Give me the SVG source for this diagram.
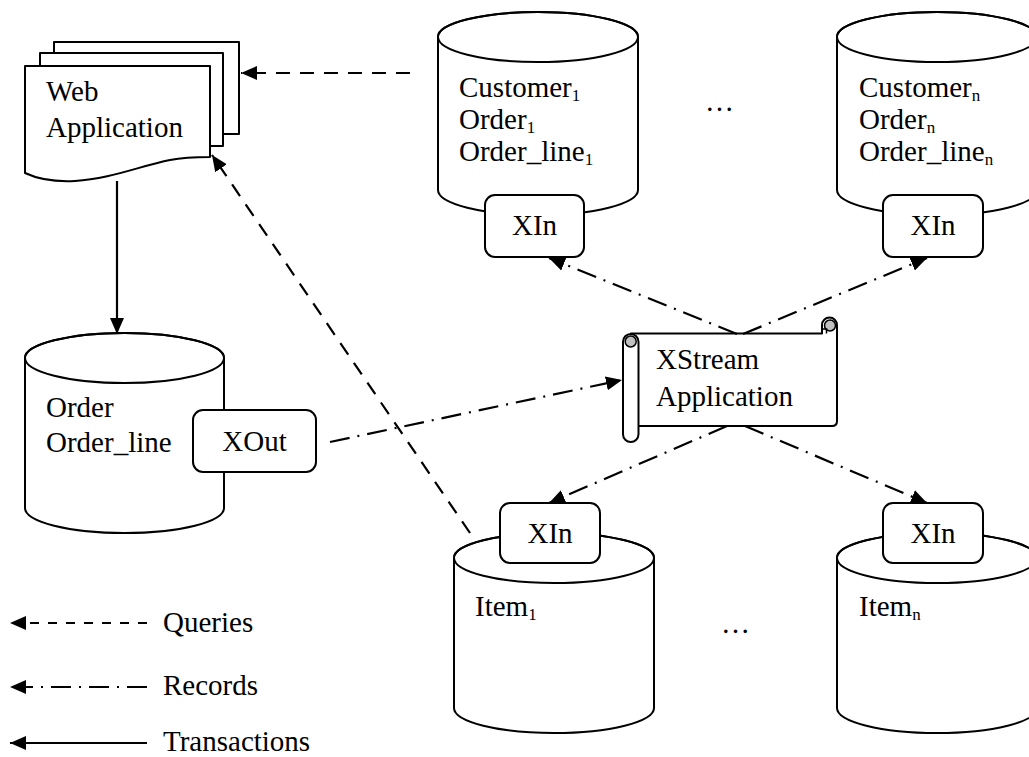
<svg xmlns="http://www.w3.org/2000/svg" width="1029" height="757" viewBox="0 0 1029 757">
<style>
.s{fill:#fff;stroke:#000;stroke-width:2;stroke-linejoin:round}
.n{fill:none;stroke:#000;stroke-width:2}
.t{font-family:"Liberation Serif","Times New Roman",serif;font-size:29px;fill:#000}
.sub{font-size:17px}
.q{fill:none;stroke:#000;stroke-width:2.2;stroke-dasharray:14 10}
.ql{fill:none;stroke:#000;stroke-width:2.2;stroke-dasharray:9 9}
.r{fill:none;stroke:#000;stroke-width:2.2;stroke-dasharray:20 8 2 8}
.tr{fill:none;stroke:#000;stroke-width:2.2}
.g{fill:#c0c0c0;stroke:#000;stroke-width:1.5}
</style>
<defs>
<marker id="ah" markerUnits="userSpaceOnUse" markerWidth="17" markerHeight="16" viewBox="0 0 17 16" refX="16" refY="8" orient="auto"><path d="M0,1 L16,8 L0,15 Z" fill="#000" stroke="none"/></marker>
</defs>
<rect width="1029" height="757" fill="#fff"/>

<g id="web-application">
<rect class="s" x="54" y="42" width="185" height="92"/>
<rect class="s" x="40" y="53" width="183" height="93"/>
<path class="s" d="M25,66 H210 V157 C200,157 185,157 170,160 C140,166 110,179 75,181 C55,182 40,180 25,173 Z"/>
<text class="t" x="46" y="101">Web</text>
<text class="t" x="46" y="137">Application</text>
</g>

<g id="customer-1">
<path class="s" d="M438,37 V190 A100,25 0 0 0 638,190 V37 A100,25 0 0 0 438,37 Z"/>
<ellipse class="n" cx="538" cy="37" rx="100" ry="25"/>
<text class="t" x="459" y="97">Customer<tspan class="sub" dy="4">1</tspan></text>
<text class="t" x="459" y="129">Order<tspan class="sub" dy="4">1</tspan></text>
<text class="t" x="459" y="161">Order_line<tspan class="sub" dy="4">1</tspan></text>
<rect class="s" x="485" y="195" width="99" height="62" rx="10"/>
<text class="t" x="534.5" y="235" text-anchor="middle">XIn</text>
</g>

<g id="customer-n">
<path class="s" d="M837,37 V190 A100,25 0 0 0 1037,190 V37 A100,25 0 0 0 837,37 Z"/>
<ellipse class="n" cx="937" cy="37" rx="100" ry="25"/>
<text class="t" x="859" y="97">Customer<tspan class="sub" dy="4">n</tspan></text>
<text class="t" x="859" y="129">Order<tspan class="sub" dy="4">n</tspan></text>
<text class="t" x="859" y="161">Order_line<tspan class="sub" dy="4">n</tspan></text>
<rect class="s" x="883" y="195" width="100" height="62" rx="10"/>
<text class="t" x="933" y="235" text-anchor="middle">XIn</text>
</g>

<g id="order-db">
<path class="s" d="M25,358 V508 A99.5,25 0 0 0 224,508 V358 A99.5,25 0 0 0 25,358 Z"/>
<ellipse class="n" cx="124.5" cy="358" rx="99.5" ry="25"/>
<text class="t" x="46" y="417">Order</text>
<text class="t" x="46" y="452">Order_line</text>
<rect class="s" x="193" y="410" width="123" height="62" rx="10"/>
<text class="t" x="254.5" y="451" text-anchor="middle">XOut</text>
</g>

<g id="xstream-application">
<path class="s" d="M631,333.5 H822 V325 A7.5,7.5 0 0 1 837,325 V421 Q837,426 832,426 H631 Z"/>
<rect class="s" x="623" y="334" width="15.5" height="108" rx="7.75"/>
<circle class="g" cx="630.7" cy="341.5" r="5.5"/>
<circle class="g" cx="830" cy="325.5" r="5.5"/>
<path class="n" style="stroke-width:1.5" d="M822,329 H826.5 V333.5"/>
<text class="t" x="656" y="369">XStream</text>
<text class="t" x="656" y="406">Application</text>
</g>

<g id="item-1">
<path class="s" d="M454,558 V708 A100,25 0 0 0 654,708 V558 A100,25 0 0 0 454,558 Z"/>
<ellipse class="n" cx="554" cy="558" rx="100" ry="25"/>
<rect class="s" x="500" y="503" width="100" height="60" rx="10"/>
<text class="t" x="550" y="543" text-anchor="middle">XIn</text>
<text class="t" x="475" y="616">Item<tspan class="sub" dy="4">1</tspan></text>
</g>

<g id="item-n">
<path class="s" d="M837,558 V708 A100,25 0 0 0 1037,708 V558 A100,25 0 0 0 837,558 Z"/>
<ellipse class="n" cx="937" cy="558" rx="100" ry="25"/>
<rect class="s" x="883" y="503" width="100" height="60" rx="10"/>
<text class="t" x="933" y="543" text-anchor="middle">XIn</text>
<text class="t" x="859" y="616">Item<tspan class="sub" dy="4">n</tspan></text>
</g>

<g id="ellipses">
<text class="t" x="705" y="111">…</text>
<text class="t" x="721" y="633">…</text>
</g>

<g id="connectors">
<line class="q" x1="410" y1="73" x2="241" y2="73" marker-end="url(#ah)"/>
<line class="q" x1="470" y1="533" x2="212" y2="155" marker-end="url(#ah)"/>
<line class="tr" x1="117" y1="181" x2="117" y2="334" marker-end="url(#ah)"/>
<line class="r" x1="330" y1="442" x2="622" y2="380" marker-end="url(#ah)"/>
<line class="r" x1="737" y1="334" x2="549" y2="258" marker-end="url(#ah)"/>
<line class="r" x1="743" y1="334" x2="927" y2="258" marker-end="url(#ah)"/>
<line class="r" x1="727" y1="426" x2="549" y2="503" marker-end="url(#ah)"/>
<line class="r" x1="745" y1="426" x2="927" y2="503" marker-end="url(#ah)"/>
</g>

<g id="legend">
<line class="ql" x1="147" y1="623" x2="10" y2="623" marker-end="url(#ah)"/>
<line class="r" x1="147" y1="687" x2="10" y2="687" marker-end="url(#ah)"/>
<line class="tr" x1="147" y1="743" x2="10" y2="743" marker-end="url(#ah)"/>
<text class="t" x="163" y="632">Queries</text>
<text class="t" x="163" y="695">Records</text>
<text class="t" x="163" y="751">Transactions</text>
</g>
</svg>
